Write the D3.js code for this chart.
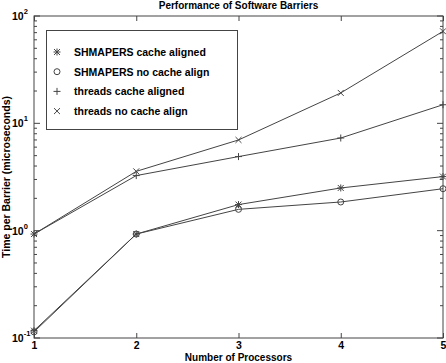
<!DOCTYPE html>
<html>
<head>
<meta charset="utf-8">
<script src="https://cdn.jsdelivr.net/npm/d3@7"></script>
<style>
  body { margin: 0; background: #fff; }
  svg text { font-family: "Liberation Sans", Arial, sans-serif; fill: #000; }
</style>
</head>
<body>
<div id="chart"></div>
<script>
// Datos
const processors = [1, 2, 3, 4, 5];
const shmapersAligned = [0.117, 0.93, 1.75, 2.5, 3.19];
const shmapersNoAlign = [0.114, 0.93, 1.58, 1.85, 2.46];
const threadsAligned = [0.93, 3.26, 4.9, 7.3, 14.9];
const threadsNoAlign = [0.93, 3.57, 7.0, 19.2, 72];
const yTickExps = [-1, 0, 1, 2];

const series = [
  { name: "SHMAPERS cache aligned", values: shmapersAligned, marker: "star" },
  { name: "SHMAPERS no cache align", values: shmapersNoAlign, marker: "circle" },
  { name: "threads cache aligned", values: threadsAligned, marker: "plus" },
  { name: "threads no cache align", values: threadsNoAlign, marker: "cross" }
];

const W = 446, H = 363;
const margin = { top: 16, right: 3, bottom: 25, left: 34 };
const width = W - margin.left - margin.right;
const height = H - margin.top - margin.bottom;
const stroke = "#444";

const svg = d3.select("#chart").append("svg")
  .attr("width", W).attr("height", H);

const g = svg.append("g")
  .attr("transform", `translate(${margin.left},${margin.top})`);

const x = d3.scaleLinear().domain([1, 5]).range([0, width]);
const y = d3.scaleLog().domain([0.1, 100]).range([height, 0]);

// Caja
g.append("rect")
  .attr("width", width).attr("height", height)
  .attr("fill", "none").attr("stroke", stroke).attr("stroke-width", 1);

// Ticks de x (abajo y arriba, hacia dentro)
g.append("g")
  .attr("transform", `translate(0,${height})`)
  .call(d3.axisBottom(x).tickValues(processors).tickSizeInner(-5).tickSizeOuter(0).tickPadding(0).tickFormat(d3.format("d")))
  .call(a => a.select(".domain").remove())
  .call(a => a.selectAll("line").attr("stroke", stroke))
  .call(a => a.selectAll("text").attr("y", 11).attr("dy", 0)
    .style("font-size", "10.5px").style("font-weight", "bold"));

g.append("g")
  .call(d3.axisTop(x).tickValues(processors).tickSizeInner(-5).tickSizeOuter(0).tickFormat(""))
  .call(a => a.select(".domain").remove())
  .call(a => a.selectAll("line").attr("stroke", stroke));

// Ticks log de y (izquierda y derecha)
const allY = [];
for (let e = -1; e < 2; e++) {
  for (let m = 1; m < 10; m++) allY.push(m * Math.pow(10, e));
}
allY.push(100);

[0, width].forEach((xx, side) => {
  g.selectAll(null)
    .data(allY)
    .enter()
    .append("line")
    .attr("x1", xx)
    .attr("x2", d => {
      const major = Math.abs(Math.log10(d) - Math.round(Math.log10(d))) < 1e-9;
      const len = major ? 6 : 3;
      return side === 0 ? xx + len : xx - len;
    })
    .attr("y1", d => y(d)).attr("y2", d => y(d))
    .attr("stroke", stroke);
});

// Etiquetas y con exponente
const yl = g.append("g");
yTickExps.forEach(e => {
  const t = yl.append("text")
    .attr("x", -22)
    .attr("y", y(Math.pow(10, e)) + 4)
    .style("font-size", "10.5px")
    .style("font-weight", "bold");
  t.append("tspan").text("10");
  t.append("tspan").attr("dy", -6).style("font-size", "7.5px").text(e);
});

// Lineas
const line = d3.line()
  .x((d, i) => x(processors[i]))
  .y(d => y(d));

series.forEach(s => {
  g.append("path")
    .datum(s.values)
    .attr("d", line)
    .attr("fill", "none")
    .attr("stroke", stroke)
    .attr("stroke-width", 1);
});

// Marcadores
function drawMarker(sel, type, cx, cy) {
  const r = 3.5;
  if (type === "circle") {
    sel.append("circle").attr("cx", cx).attr("cy", cy).attr("r", 3)
      .attr("fill", "none").attr("stroke", stroke);
  }
  if (type === "plus" || type === "star") {
    sel.append("line").attr("x1", cx - r).attr("x2", cx + r).attr("y1", cy).attr("y2", cy).attr("stroke", stroke);
    sel.append("line").attr("x1", cx).attr("x2", cx).attr("y1", cy - r).attr("y2", cy + r).attr("stroke", stroke);
  }
  if (type === "cross" || type === "star") {
    const k = r * 0.85;
    sel.append("line").attr("x1", cx - k).attr("x2", cx + k).attr("y1", cy - k).attr("y2", cy + k).attr("stroke", stroke);
    sel.append("line").attr("x1", cx - k).attr("x2", cx + k).attr("y1", cy + k).attr("y2", cy - k).attr("stroke", stroke);
  }
}

series.forEach(s => {
  const mg = g.append("g");
  s.values.forEach((v, i) => drawMarker(mg, s.marker, x(processors[i]), y(v)));
});

// Leyenda
const legend = svg.append("g");
legend.append("rect")
  .attr("x", 46.5).attr("y", 30.5).attr("width", 191).attr("height", 99)
  .attr("fill", "#fff").attr("stroke", stroke);
series.forEach((s, i) => {
  const ly = 52 + i * 19.7;
  drawMarker(legend, s.marker, 57, ly);
  legend.append("text")
    .attr("x", 74).attr("y", ly + 4)
    .style("font-size", "10.5px").style("font-weight", "bold")
    .text(s.name);
});

// Titulos
svg.append("text")
  .attr("x", margin.left + width / 2).attr("y", 9)
  .attr("text-anchor", "middle")
  .style("font-size", "10px").style("font-weight", "bold")
  .text("Performance of Software Barriers");

svg.append("text")
  .attr("x", margin.left + width / 2).attr("y", 361)
  .attr("text-anchor", "middle")
  .style("font-size", "10px").style("font-weight", "bold")
  .text("Number of Processors");

svg.append("text")
  .attr("transform", `translate(10,${margin.top + height / 2}) rotate(-90)`)
  .attr("text-anchor", "middle")
  .style("font-size", "10.5px").style("font-weight", "bold")
  .text("Time per Barrier (microseconds)");
</script>
</body>
</html>
